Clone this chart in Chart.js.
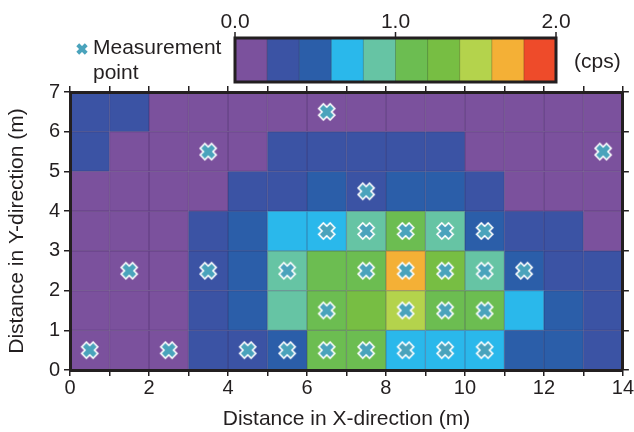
<!DOCTYPE html>
<html>
<head>
<meta charset="utf-8">
<script src="https://cdn.jsdelivr.net/npm/chart.js@4.4.1/dist/chart.umd.min.js"></script>
<style>
  html, body { margin: 0; padding: 0; background: #fff; }
  .chart-container { position: relative; width: 634px; height: 432px; }
</style>
</head>
<body>
<div class="chart-container"><canvas id="myChart"></canvas></div>
<script>
// cell left edges (m) and bottom edges of each row, top row first
const colStarts = [0, 1, 2, 3, 4, 5, 6, 7, 8, 9, 10, 11, 12, 13];
const rowStarts = [6, 5, 4, 3, 2, 1, 0];

// count rate (cps) per cell, one array per row
const cpsRow6 = [0.3, 0.3, 0.1, 0.1, 0.1, 0.1, 0.1, 0.1, 0.1, 0.1, 0.1, 0.1, 0.1, 0.1];
const cpsRow5 = [0.3, 0.1, 0.1, 0.1, 0.1, 0.3, 0.3, 0.3, 0.3, 0.3, 0.1, 0.1, 0.1, 0.1];
const cpsRow4 = [0.1, 0.1, 0.1, 0.1, 0.3, 0.3, 0.5, 0.3, 0.5, 0.5, 0.3, 0.1, 0.1, 0.1];
const cpsRow3 = [0.1, 0.1, 0.1, 0.3, 0.5, 0.7, 0.7, 0.9, 1.1, 0.9, 0.5, 0.3, 0.3, 0.1];
const cpsRow2 = [0.1, 0.1, 0.1, 0.3, 0.5, 0.9, 1.1, 1.1, 1.7, 1.3, 0.9, 0.5, 0.3, 0.3];
const cpsRow1 = [0.1, 0.1, 0.1, 0.3, 0.5, 0.9, 1.1, 1.3, 1.5, 1.1, 1.1, 0.7, 0.5, 0.3];
const cpsRow0 = [0.1, 0.1, 0.1, 0.3, 0.3, 0.5, 1.1, 1.1, 0.7, 0.7, 0.7, 0.5, 0.5, 0.3];
const cpsRows = [cpsRow6, cpsRow5, cpsRow4, cpsRow3, cpsRow2, cpsRow1, cpsRow0];

// measurement points
const pointX = [6.5, 3.5, 13.5, 7.5, 6.5, 7.5, 8.5, 9.5, 10.5,
  1.5, 3.5, 5.5, 7.5, 8.5, 9.5, 10.5, 11.5,
  6.5, 8.5, 9.5, 10.5,
  0.5, 2.5, 4.5, 5.5, 6.5, 7.5, 8.5, 9.5, 10.5];
const pointY = [6.5, 5.5, 5.5, 4.5, 3.5, 3.5, 3.5, 3.5, 3.5,
  2.5, 2.5, 2.5, 2.5, 2.5, 2.5, 2.5, 2.5,
  1.5, 1.5, 1.5, 1.5,
  0.5, 0.5, 0.5, 0.5, 0.5, 0.5, 0.5, 0.5, 0.5];

// colour scale
const binEdges = [0.0, 0.2, 0.4, 0.6, 0.8, 1.0, 1.2, 1.4, 1.6, 1.8, 2.0];
const binColors = ["#7B519D", "#3B53A4", "#2B5EA9", "#2AB8EB", "#66C4A4",
  "#6CBD51", "#77BE43", "#B4D34C", "#F4B036", "#EE4B2A"];
const cbTickValues = [0.0, 1.0, 2.0];
const cbTickLabels = ["0.0", "1.0", "2.0"];

const ink = "#231F20";
const markerColor = "#4AA3BC";
const fontFamily = "'Liberation Sans', Arial, Helvetica, sans-serif";

function colorFor(v) {
  for (let i = 0; i < binColors.length; i++) {
    if (v < binEdges[i + 1]) return binColors[i];
  }
  return binColors[binColors.length - 1];
}

function makeCross(size, arm, thick, edge) {
  const c = document.createElement("canvas");
  c.width = size;
  c.height = size;
  const g = c.getContext("2d");
  g.translate(size / 2, size / 2);
  g.rotate(Math.PI / 4);
  if (edge) {
    g.fillStyle = "#fff";
    g.fillRect(-arm / 2 - edge, -thick / 2 - edge, arm + 2 * edge, thick + 2 * edge);
    g.fillRect(-thick / 2 - edge, -arm / 2 - edge, thick + 2 * edge, arm + 2 * edge);
  }
  g.fillStyle = markerColor;
  g.fillRect(-arm / 2, -thick / 2, arm, thick);
  g.fillRect(-thick / 2, -arm / 2, thick, arm);
  return c;
}

const crossMarker = makeCross(24, 14.5, 5, 1.6);
const legendCross = makeCross(16, 12, 4, 0);

const heatmapPlugin = {
  id: "heatmap",
  beforeDatasetsDraw(chart) {
    const { ctx, scales: { x, y } } = chart;
    ctx.save();
    cpsRows.forEach((row, r) => {
      row.forEach((v, c) => {
        const x0 = x.getPixelForValue(colStarts[c]);
        const x1 = x.getPixelForValue(colStarts[c] + 1);
        const y0 = y.getPixelForValue(rowStarts[r] + 1);
        const y1 = y.getPixelForValue(rowStarts[r]);
        ctx.fillStyle = colorFor(v);
        ctx.fillRect(x0, y0, x1 - x0, y1 - y0);
      });
    });
    // cell edges
    ctx.strokeStyle = "rgba(40, 20, 70, 0.3)";
    ctx.lineWidth = 1.2;
    ctx.beginPath();
    colStarts.forEach((cx) => {
      const px = x.getPixelForValue(cx);
      ctx.moveTo(px, y.top);
      ctx.lineTo(px, y.bottom);
    });
    rowStarts.forEach((ry) => {
      const py = y.getPixelForValue(ry);
      ctx.moveTo(x.left, py);
      ctx.lineTo(x.right, py);
    });
    ctx.stroke();
    ctx.restore();
  },
};

const colorbarPlugin = {
  id: "colorbar",
  afterDraw(chart) {
    const ctx = chart.ctx;
    const left = 235, right = 556, top = 38, bottom = 82;
    const w = (right - left) / binColors.length;
    ctx.save();
    binColors.forEach((col, i) => {
      ctx.fillStyle = col;
      ctx.fillRect(left + i * w, top, w + 0.5, bottom - top);
    });
    ctx.strokeStyle = "rgba(30, 30, 30, 0.25)";
    ctx.lineWidth = 1;
    ctx.beginPath();
    for (let i = 1; i < binColors.length; i++) {
      ctx.moveTo(left + i * w, top);
      ctx.lineTo(left + i * w, bottom);
    }
    ctx.stroke();
    ctx.strokeStyle = ink;
    ctx.lineWidth = 3;
    ctx.strokeRect(left, top, right - left, bottom - top);

    // ticks and labels
    ctx.lineWidth = 1.5;
    ctx.fillStyle = ink;
    ctx.font = "21px " + fontFamily;
    ctx.textAlign = "center";
    ctx.textBaseline = "alphabetic";
    cbTickValues.forEach((v, i) => {
      const px = left + (v / binEdges[binEdges.length - 1]) * (right - left);
      ctx.beginPath();
      ctx.moveTo(px, top - 6);
      ctx.lineTo(px, top);
      ctx.stroke();
      ctx.fillText(cbTickLabels[i], px, 28);
    });
    ctx.textAlign = "left";
    ctx.textBaseline = "middle";
    ctx.fillText("(cps)", 574, 62);

    // marker legend
    ctx.drawImage(legendCross, 74, 41);
    ctx.fillText("Measurement", 93, 48);
    ctx.fillText("point", 93, 73);
    ctx.restore();
  },
};

const axisGrid = {
  drawOnChartArea: false,
  drawTicks: true,
  tickLength: 6,
  color: ink,
  lineWidth: 1.5,
};
const axisBorder = { display: true, color: ink, width: 3, z: 1 };
const tickFont = { family: fontFamily, size: 20 };
const titleFont = { family: fontFamily, size: 21 };

const chartConfiguration = {
  type: "scatter",
  data: {
    datasets: [
      {
        label: "Measurement point",
        data: pointX.map((px, i) => ({ x: px, y: pointY[i] })),
        pointStyle: crossMarker,
        pointRadius: 10,
      },
    ],
  },
  options: {
    responsive: true,
    maintainAspectRatio: false,
    animation: false,
    events: [],
    layout: { padding: { top: 86, right: 0, bottom: 0, left: 0 } },
    plugins: {
      legend: { display: false },
      tooltip: { enabled: false },
    },
    scales: {
      x: {
        type: "linear",
        position: "bottom",
        min: 0,
        max: 14,
        afterFit: (s) => { s.height = 62; },
        ticks: {
          stepSize: 1,
          color: ink,
          font: tickFont,
          padding: 0,
          maxRotation: 0,
          autoSkip: false,
          callback: (v) => (v % 2 === 0 ? v : ""),
        },
        grid: axisGrid,
        border: axisBorder,
        title: {
          display: true,
          text: "Distance in X-direction (m)",
          color: ink,
          font: titleFont,
          padding: { top: 0, bottom: 0 },
        },
      },
      x2: {
        type: "linear",
        position: "top",
        min: 0,
        max: 14,
        afterFit: (s) => { s.height = 6; },
        ticks: { stepSize: 1, display: false },
        grid: axisGrid,
        border: axisBorder,
      },
      y: {
        type: "linear",
        position: "left",
        min: 0,
        max: 7,
        afterFit: (s) => { s.width = 70; },
        ticks: { stepSize: 1, color: ink, font: tickFont, padding: 4 },
        grid: axisGrid,
        border: axisBorder,
        title: {
          display: true,
          text: "Distance in Y-direction (m)",
          color: ink,
          font: titleFont,
          padding: { top: 5, bottom: 0 },
        },
      },
      y2: {
        type: "linear",
        position: "right",
        min: 0,
        max: 7,
        afterFit: (s) => { s.width = 9; },
        ticks: { stepSize: 1, display: false },
        grid: axisGrid,
        border: axisBorder,
      },
    },
  },
  plugins: [heatmapPlugin, colorbarPlugin],
};

const ctx = document.getElementById("myChart").getContext("2d");
const currentChart = new Chart(ctx, chartConfiguration);
</script>
</body>
</html>
